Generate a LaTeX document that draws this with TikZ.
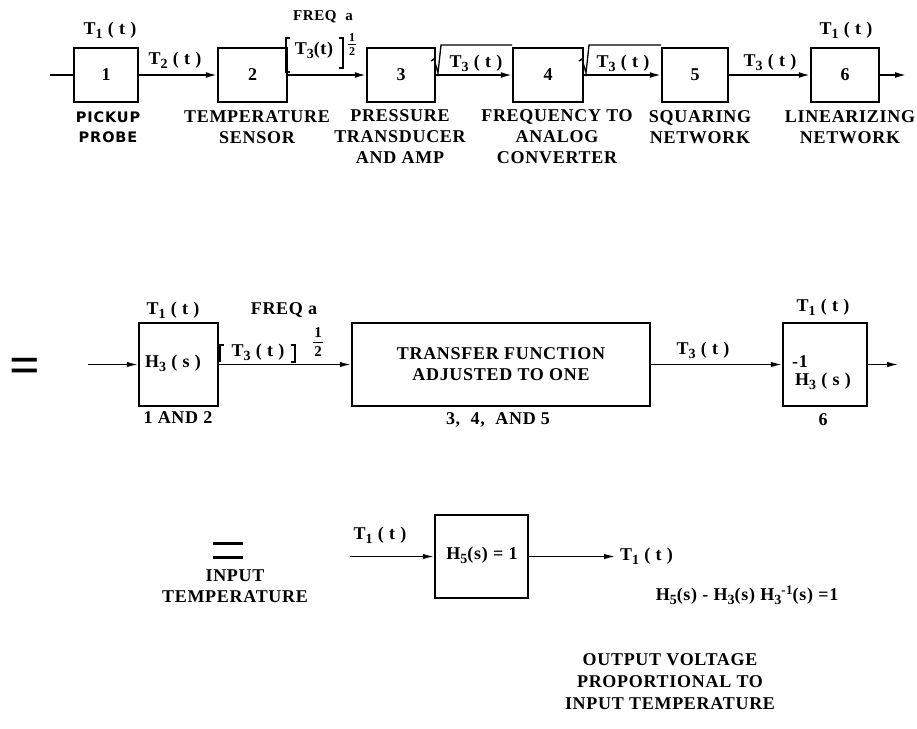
\documentclass[tikz,border=0pt]{standalone}
\usepackage{fontspec}
\setmainfont{Liberation Serif}
\newfontfamily\lsp{Liberation Serif}[LetterSpace=4]
\newfontfamily\sansb{DejaVu Sans}[LetterSpace=6]
\usetikzlibrary{arrows.meta}
\newcommand\dn[1]{\raisebox{-0.45ex}{\fontsize{14}{14}\selectfont #1}}
\newcommand\upx[1]{\raisebox{0.75ex}{\fontsize{13}{13}\selectfont #1}}
\tikzset{
 blk/.style={draw, line width=2.5pt, inner sep=0pt},
 lab/.style={font=\lsp\bfseries\fontsize{18}{21}\selectfont, inner sep=0pt, align=center},
 sml/.style={font=\lsp\bfseries\fontsize{15}{16}\selectfont, inner sep=0pt},
 tiny/.style={font=\bfseries\fontsize{12}{12}\selectfont, inner sep=0pt},
 sanslab/.style={font=\sansb\bfseries\fontsize{14.5}{20}\selectfont, inner sep=0pt, align=center},
 flow/.style={line width=1.6pt, -{Latex[length=11pt,width=6pt]}},
 mflow/.style={line width=1.3pt, -{Latex[length=11pt,width=5.5pt]}},
 thin/.style={line width=1.3pt},
 eqbar/.style={line width=3pt},
}
\begin{document}
\begin{tikzpicture}[x=1pt,y=-1pt]
\useasboundingbox (0,0) rectangle (917,728);

% ---------------- top row ----------------
\node[blk, minimum width=64pt, minimum height=54pt, lab] (b1) at (106,75) {1};
\node[blk, minimum width=69pt, minimum height=54pt, lab] (b2) at (252.5,75) {2};
\node[blk, minimum width=68pt, minimum height=54pt, lab] (b3) at (401,75) {3};
\node[blk, minimum width=70pt, minimum height=54pt, lab] (b4) at (548,75) {4};
\node[blk, minimum width=66pt, minimum height=54pt, lab] (b5) at (695,75) {5};
\node[blk, minimum width=68pt, minimum height=54pt, lab] (b6) at (845,75) {6};

\coordinate (in0) at (50,75);
\coordinate (out0) at (906,75);
\draw[line width=1.6pt] (in0) -- (b1);
\draw[flow] (b1) -- (b2);
\draw[flow] (b2) -- (b3);
\draw[flow] (b3) -- (b4);
\draw[flow] (b4) -- (b5);
\draw[flow] (b5) -- (b6);
\draw[flow] (b6) -- (out0);

\node[lab] (t1a) at (110,30) {T\dn{1} ( t )};
\node[lab] (t2a) at (175,60) {T\dn{2} ( t )};
\node[sml] (freqa) at (323,17) {FREQ\ \ a};
\node[lab] (t3a) at (314,50) {T\dn{3}(t)};
\draw[thin] (290,38) -- (286,38) -- (286,72) -- (290,72);
\draw[thin] (339,38) -- (343,38) -- (343,68) -- (339,68);
\node[tiny] (h1a) at (352,38) {1};
\draw[line width=0.8pt] (348,44.5) -- (356,44.5);
\node[tiny] (h2a) at (352,52) {2};

\node[lab] (sq1) at (476,63) {T\dn{3} ( t )};
\draw[thin] (431,61) -- (434,59) -- (438,73) -- (441,45) -- (512,45);
\node[lab] (sq2) at (623,63) {T\dn{3} ( t )};
\draw[thin] (579,61) -- (582,59) -- (586,73) -- (589,45) -- (661,45);
\node[lab] (t3b) at (770,62) {T\dn{3} ( t )};
\node[lab] (t1b) at (846,30) {T\dn{1} ( t )};

\node[sanslab] (d1) at (108,127) {PICKUP\\PROBE};
\node[lab] (d2) at (257,127) {TEMPERATURE\\SENSOR};
\node[lab] (d3) at (400,137) {PRESSURE\\TRANSDUCER\\AND AMP};
\node[lab] (d4) at (557,137) {FREQUENCY TO\\ANALOG\\CONVERTER};
\node[lab] (d5) at (700,127) {SQUARING\\NETWORK};
\node[lab] (d6) at (850,127) {LINEARIZING\\NETWORK};

% ---------------- middle row ----------------
\node[font=\bfseries\fontsize{54}{54}\selectfont, inner sep=0pt] (eq1) at (25,371) {=};
\node[blk, minimum width=79pt, minimum height=83pt] (m1) at (178.5,364.5) {};
\node[lab, anchor=west] (m1t) at (145,363) {H\dn{3} ( s )};
\node[blk, minimum width=298pt, minimum height=83pt, lab] (m2) at (501,364.5) {TRANSFER FUNCTION\\ADJUSTED TO ONE};
\node[blk, minimum width=84pt, minimum height=83pt] (m3) at (825,364.5) {};
\node[lab, anchor=west] (m3a) at (792,362) {-1};
\node[lab] (m3b) at (823,381) {H\dn{3} ( s )};

\coordinate (min0) at (88,364.5);
\coordinate (mout0) at (898,364.5);
\draw[mflow] (min0) -- (m1);
\draw[mflow] (m1) -- (m2);
\draw[mflow] (m2) -- (m3);
\draw[mflow] (m3) -- (mout0);

\node[lab] (mt1) at (173,310) {T\dn{1} ( t )};
\node[lab] (mfreq) at (284,310) {FREQ a};
\node[lab] (mt3) at (258,352) {T\dn{3} ( t )};
\draw[thin] (224,345) -- (220,345) -- (220,362);
\draw[thin] (291,345) -- (295,345) -- (295,362) -- (291,362);
\node[sml] (mh1) at (318,333) {1};
\draw[line width=0.9pt] (313,342.5) -- (323,342.5);
\node[sml] (mh2) at (318,352) {2};
\node[lab] (m1d) at (178,418) {1 AND 2};
\node[lab] (m2d) at (498,420) {3,\ \ 4,\ \ AND 5};
\node[lab] (mt3b) at (703,350) {T\dn{3} ( t )};
\node[lab] (mt1b) at (823,307) {T\dn{1} ( t )};
\node[lab] (m3d) at (823,420) {6};

% ---------------- bottom row ----------------
\draw[eqbar] (213,543) -- (243,543);
\draw[eqbar] (213,557) -- (243,557);
\node[lab] (inp) at (235,586) {INPUT\\TEMPERATURE};
\node[blk, minimum width=93pt, minimum height=83pt, lab] (h5) at (481.5,556.5) {};
\node[lab] (h5t) at (482,555) {H\dn{5}(s) = 1};
\coordinate (bin0) at (350,556.5);
\coordinate (bout0) at (615,556.5);
\draw[mflow] (bin0) -- (h5);
\draw[mflow] (h5) -- (bout0);
\node[lab] (bt1) at (380,535) {T\dn{1} ( t )};
\node[lab, anchor=west] (bt1b) at (620,556) {T\dn{1} ( t )};
\node[lab] (beq) at (747,595) {H\dn{5}(s)\ -\ H\dn{3}(s)\ H\dn{3}\upx{-1}(s)\ =1};
\node[lab, font=\lsp\bfseries\fontsize{18}{22}\selectfont] (outv) at (670,682) {OUTPUT VOLTAGE\\PROPORTIONAL TO\\INPUT TEMPERATURE};
\end{tikzpicture}
\end{document}
